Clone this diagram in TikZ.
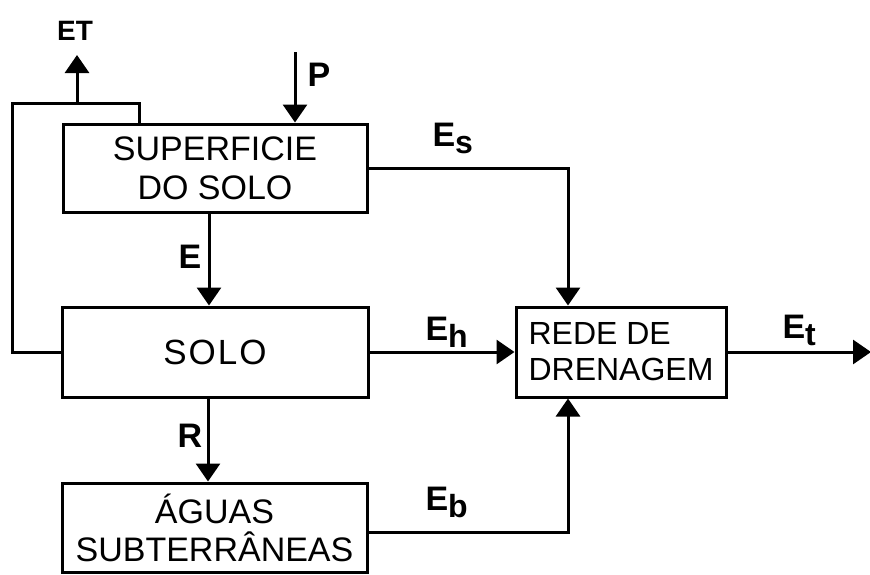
\documentclass[tikz,border=0pt]{standalone}
\usepackage{fontspec}
\setmainfont{Liberation Sans}
\usetikzlibrary{arrows.meta}

\newcommand{\flowsub}[1]{{\fontsize{32}{32}\selectfont\raisebox{-7pt}{#1}}}

\begin{document}
\begin{tikzpicture}[x=1pt,y=-1pt,
  line width=3pt,
  box/.style={draw, line width=3pt, rectangle, inner sep=0pt,
    font=\fontsize{34}{39}\selectfont, align=center},
  flowlabel/.style={inner sep=0pt, font=\bfseries\fontsize{34}{34}\selectfont},
  arr/.style={-{Triangle[length=18pt,width=24pt]}, line width=3pt}
]
\useasboundingbox (0,0) rectangle (870,574);

% compartments
\node[box, minimum width=304pt, minimum height=88pt] (sup) at (215,168) {SUPERFICIE\\DO SOLO};
\node[box, minimum width=306pt, minimum height=90pt, font=\fontsize{35}{39}\selectfont] (solo) at (215,352) {S\kern2pt O\kern2pt L\kern2pt O};
\node[box, minimum width=305pt, minimum height=89pt, font=\fontsize{34}{38}\selectfont] (agu) at (214.5,527.5) {ÁGUAS\\SUBTERRÂNEAS};
\node[box, minimum width=210pt, minimum height=90pt, align=left,
  font=\fontsize{32}{36}\selectfont] (rede) at (621,352) {REDE DE\\DRENAGEM};

% free ends and bend points
\coordinate (ptop) at (295,52);
\coordinate (fbl) at (12,103);
\coordinate (fbr) at (139,103);
\coordinate (etend) at (77,55);
\coordinate (ex) at (209,0);
\coordinate (rx) at (208,0);
\coordinate (drx) at (568,0);
\coordinate (etip) at (871,352);

% precipitation
\draw[arr] (ptop) -- (ptop |- sup.north);
% evapotranspiration from surface and soil
\draw (solo.west) -| (fbl) -- (fbr) -- (fbr |- sup.north);
\draw[arr] (fbl -| etend) -- (etend);
% infiltration and recharge
\draw[arr] (sup.south -| ex) -- (solo.north -| ex);
\draw[arr] (solo.south -| rx) -- (agu.north -| rx);
% flows into the drainage network
\draw[arr] (sup.east) -| (rede.north -| drx);
\draw[arr] (solo.east) -- (rede.west);
\draw[arr] ([yshift=-5pt]agu.east) -| (rede.south -| drx);
\draw[arr] (rede.east) -- (etip);

% flow labels
\node[flowlabel, font=\bfseries\fontsize{28}{28}\selectfont, anchor=base] (lET) at (75,40) {ET};
\node[flowlabel, anchor=base west] (lP) at (306,86) {P};
\node[flowlabel, anchor=base west] (lE) at (177,268) {E};
\node[flowlabel, anchor=base west] (lR) at (176,447) {R};
\node[flowlabel, anchor=base west] (lEs) at (431,146) {E\flowsub{s}};
\node[flowlabel, anchor=base west] (lEh) at (424,340) {E\flowsub{h}};
\node[flowlabel, anchor=base west] (lEt) at (781,338) {E\flowsub{t}};
\node[flowlabel, anchor=base west] (lEb) at (424,510) {E\flowsub{b}};
\end{tikzpicture}
\end{document}
